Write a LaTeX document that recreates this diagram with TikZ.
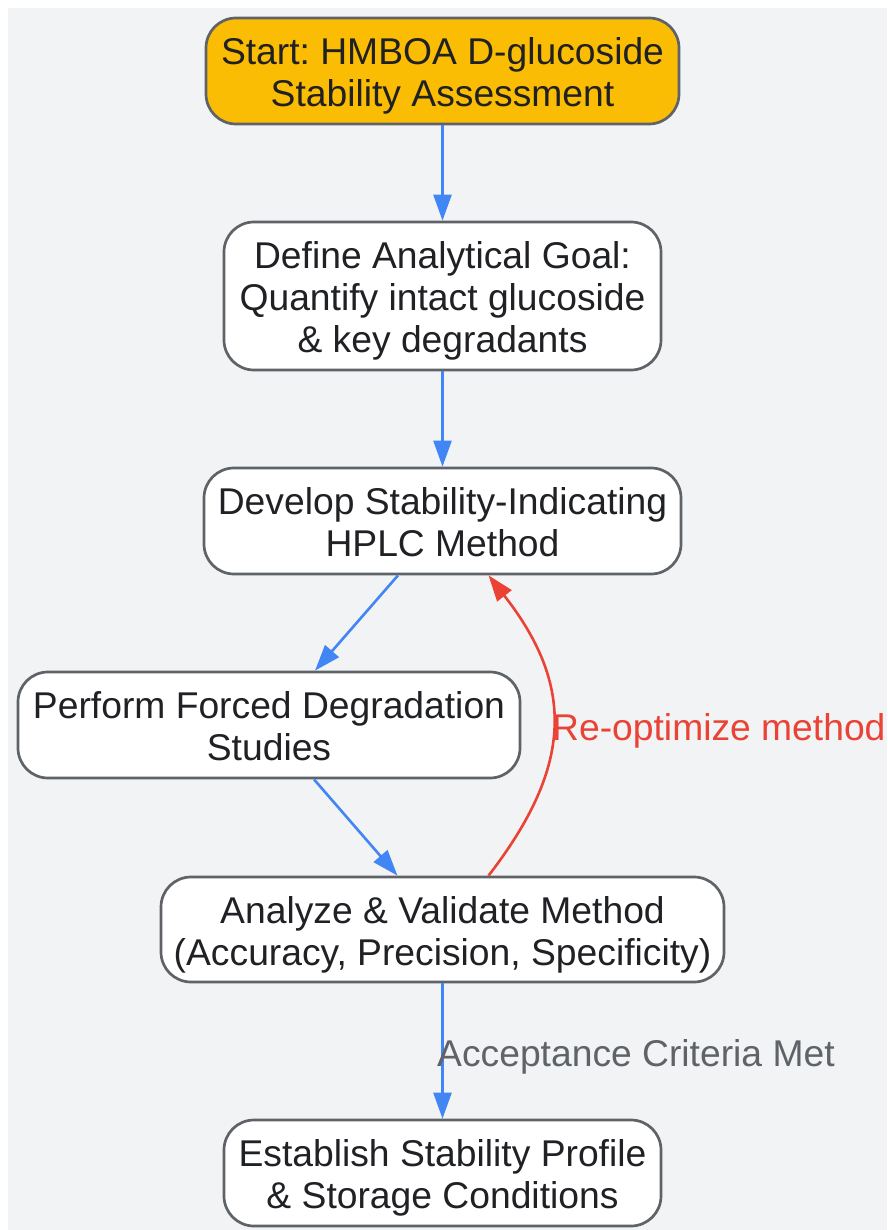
\documentclass[tikz,border=0pt]{standalone}
\usepackage{fontspec}
\setmainfont{Liberation Sans}
\usetikzlibrary{arrows.meta}
\definecolor{bgc}{HTML}{F1F3F4}
\definecolor{ink}{HTML}{202124}
\definecolor{edge}{HTML}{5F6368}
\definecolor{flow}{HTML}{4285F4}
\definecolor{back}{HTML}{EA4335}
\definecolor{startc}{HTML}{FBBC04}
\newcommand{\firstline}{\rule{0pt}{38pt}}
\newcommand{\lastline}{\rule[-9pt]{0pt}{9pt}}
\tikzset{
  x=1pt,y=-1pt,
  box/.style={draw=edge,line width=2.7pt,fill=white,rounded corners=30pt,align=center,text=ink,
    font=\fontsize{37.25}{42}\selectfont\frenchspacing,inner sep=0pt,anchor=center},
  flowline/.style={draw=flow,line width=2.6pt,-{Triangle[length=26pt,width=18pt]}},
  backline/.style={draw=back,line width=2.6pt,-{Triangle[length=26pt,width=18pt]}},
  lab/.style={font=\fontsize{37.25}{42}\selectfont,inner sep=0pt}
}
\begin{document}
\begin{tikzpicture}
\useasboundingbox (0,0) rectangle (887,1230);
\fill[bgc] (8,8) rectangle (887,1230);
\node[box,fill=startc,minimum width=473pt,minimum height=106pt] (s) at (442.5,71) {\firstline Start: HMBOA D-glucoside\\Stability Assessment\lastline};
\node[box,minimum width=437pt,minimum height=148pt] (d) at (442.5,296) {\firstline Define Analytical Goal:\\Quantify intact glucoside\\\& key degradants\lastline};
\node[box,minimum width=477pt,minimum height=106pt] (h) at (442.5,521) {\firstline Develop Stability-Indicating\\HPLC Method\lastline};
\node[box,minimum width=502pt,minimum height=106pt] (p) at (269,725) {\firstline Perform Forced Degradation\\Studies\lastline};
\node[box,minimum width=563pt,minimum height=105pt] (a) at (442.5,929.5) {\firstline Analyze \& Validate Method\\(Accuracy, Precision, Specificity)\lastline};
\node[box,minimum width=437pt,minimum height=106pt] (e) at (442.5,1173) {\firstline Establish Stability Profile\\\& Storage Conditions\lastline};
\draw[flowline] (s) -- (d);
\draw[flowline] (d) -- (h);
\draw[flowline] ([xshift=-44.5pt]h.south) -- ([xshift=46pt]p.north);
\draw[flowline] ([xshift=45pt]p.south) -- ([xshift=-45pt]a.north);
\draw[flowline] (a) -- (e);
\draw[backline] ([xshift=46pt]a.north) .. controls (574,765) and (574,685) .. ([xshift=46pt]h.south);
\node[lab,text=back,anchor=west] (l1) at (552,730.5) {Re-optimize method};
\node[lab,text=edge,anchor=west] (l2) at (437,1056.5) {Acceptance Criteria Met};
\end{tikzpicture}
\end{document}
